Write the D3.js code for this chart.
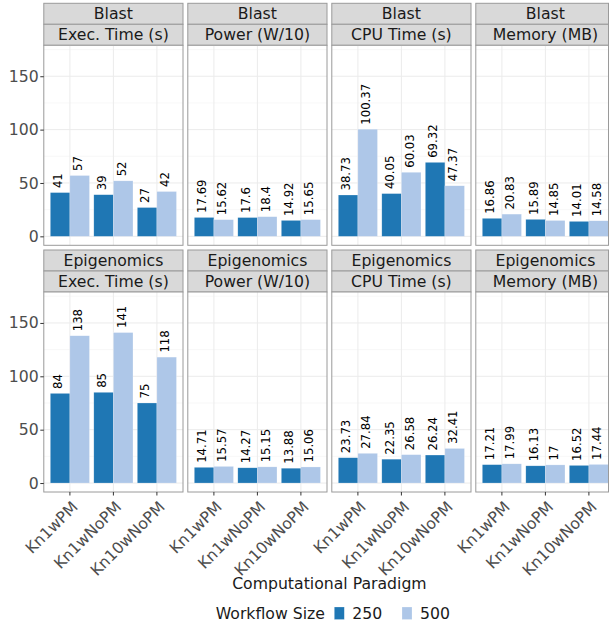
<!DOCTYPE html>
<html>
<head>
<meta charset="utf-8">
<script src="https://cdn.jsdelivr.net/npm/d3@7"></script>
<style>
  html, body { margin: 0; padding: 0; background: #ffffff; }
  svg { display: block; font-family: "DejaVu Sans", sans-serif; }
</style>
</head>
<body>
<div id="chart"></div>
<script>
// Workflow benchmark results: two workflows x four metrics, three paradigms, two workflow sizes
const workflows = ["Blast", "Epigenomics"];
const metrics = ["Exec. Time (s)", "Power (W/10)", "CPU Time (s)", "Memory (MB)"];
const paradigms = ["Kn1wPM", "Kn1wNoPM", "Kn10wNoPM"];
const sizes = ["250", "500"];
const sizeColors = ["#1F77B4", "#AEC7E8"];

// values[size] per paradigm, one array per facet
const blastExec250 = [41, 39, 27];
const blastExec500 = [57, 52, 42];
const blastPower250 = [17.69, 17.6, 14.92];
const blastPower500 = [15.62, 18.4, 15.65];
const blastCpu250 = [38.73, 40.05, 69.32];
const blastCpu500 = [100.37, 60.03, 47.37];
const blastMem250 = [16.86, 15.89, 14.01];
const blastMem500 = [20.83, 14.85, 14.58];

const epiExec250 = [84, 85, 75];
const epiExec500 = [138, 141, 118];
const epiPower250 = [14.71, 14.27, 13.88];
const epiPower500 = [15.57, 15.15, 15.06];
const epiCpu250 = [23.73, 22.35, 26.24];
const epiCpu500 = [27.84, 26.58, 32.41];
const epiMem250 = [17.21, 16.13, 16.52];
const epiMem500 = [17.99, 17, 17.44];

const yTicks = [0, 50, 100, 150];
const yMinor = [25, 75, 125, 175];

const facetData = [
  [[blastExec250, blastExec500], [blastPower250, blastPower500], [blastCpu250, blastCpu500], [blastMem250, blastMem500]],
  [[epiExec250, epiExec500], [epiPower250, epiPower500], [epiCpu250, epiCpu500], [epiMem250, epiMem500]]
];

const width = 610, height = 627;
const svg = d3.select("#chart").append("svg")
  .attr("width", width).attr("height", height);

// facet layout
const colX0 = 43.8, colStep = 144, panelW = 139.2;
const rowTop = [3.3, 250], stripH = 21, panelH = 200;
const rightLimit = 608.5;

const x = d3.scaleBand().domain(paradigms).range([0, panelW])
  .paddingInner(0.1).paddingOuter(0.15);
const xSub = d3.scaleBand().domain(sizes).range([0, x.bandwidth()]).padding(0);
const y = d3.scaleLinear().domain([-8.4, 179]).range([panelH, 0]);
const color = d3.scaleOrdinal().domain(sizes).range(sizeColors);

const axisGrey = "#4D4D4D";
const borderGrey = "#9A9A9A";
const fs = 15.7;

workflows.forEach((wf, r) => {
  metrics.forEach((metric, c) => {
    const x0 = colX0 + c * colStep;
    const visW = Math.min(panelW, rightLimit - x0);
    const top = rowTop[r];
    const pTop = top + 2 * stripH;

    // strips
    const strips = [wf, metric];
    strips.forEach((label, k) => {
      svg.append("rect")
        .attr("x", x0).attr("y", top + k * stripH)
        .attr("width", visW).attr("height", stripH)
        .attr("fill", "#D9D9D9").attr("stroke", borderGrey).attr("stroke-width", 1);
      svg.append("text")
        .attr("x", x0 + panelW / 2).attr("y", top + k * stripH + stripH / 2)
        .attr("dy", "0.36em").attr("text-anchor", "middle")
        .attr("font-size", fs).attr("fill", "#1A1A1A")
        .text(label);
    });

    const g = svg.append("g").attr("transform", `translate(${x0},${pTop})`);
    g.append("rect").attr("width", visW).attr("height", panelH).attr("fill", "#ffffff");

    // grid
    g.selectAll(".ymin").data(yMinor).enter().append("line")
      .attr("x1", 0).attr("x2", visW)
      .attr("y1", d => y(d)).attr("y2", d => y(d))
      .attr("stroke", "#F3F3F3").attr("stroke-width", 0.6);
    g.selectAll(".ymaj").data(yTicks).enter().append("line")
      .attr("x1", 0).attr("x2", visW)
      .attr("y1", d => y(d)).attr("y2", d => y(d))
      .attr("stroke", "#EBEBEB").attr("stroke-width", 1);
    g.selectAll(".xmaj").data(paradigms).enter().append("line")
      .attr("x1", d => x(d) + x.bandwidth() / 2).attr("x2", d => x(d) + x.bandwidth() / 2)
      .attr("y1", 0).attr("y2", panelH)
      .attr("stroke", "#EBEBEB").attr("stroke-width", 1);

    // bars and value labels
    const rows = [];
    paradigms.forEach((p, i) => {
      sizes.forEach((s, j) => {
        rows.push({ p, s, v: facetData[r][c][j][i] });
      });
    });
    g.selectAll(".bar").data(rows).enter().append("rect")
      .attr("x", d => x(d.p) + xSub(d.s))
      .attr("width", xSub.bandwidth())
      .attr("y", d => y(d.v))
      .attr("height", d => y(0) - y(d.v))
      .attr("fill", d => color(d.s))
      .attr("stroke", "rgba(255,255,255,0.45)").attr("stroke-width", 0.5);
    g.selectAll(".lbl").data(rows).enter().append("text")
      .attr("transform", d => `translate(${x(d.p) + xSub(d.s) + xSub.bandwidth() / 2},${y(d.v) - 4.5}) rotate(-90)`)
      .attr("dy", "0.2em")
      .attr("text-anchor", "start")
      .attr("font-size", 11.7).attr("fill", "#000000")
      .text(d => String(d.v));

    // panel border
    g.append("rect").attr("width", visW).attr("height", panelH)
      .attr("fill", "none").attr("stroke", borderGrey).attr("stroke-width", 1);

    // y axis on first column
    if (c === 0) {
      const ya = svg.append("g").attr("transform", `translate(${x0},${pTop})`)
        .call(d3.axisLeft(y).tickValues(yTicks).tickSize(3.5).tickPadding(1.5));
      ya.select(".domain").remove();
      ya.selectAll(".tick line").attr("stroke", "#333333");
      ya.selectAll(".tick text").attr("font-size", fs).attr("fill", axisGrey)
        .attr("font-family", "DejaVu Sans, sans-serif");
    }

    // x axis on bottom row
    if (r === workflows.length - 1) {
      const xa = svg.append("g").attr("transform", `translate(${x0},${pTop + panelH})`)
        .call(d3.axisBottom(x).tickSize(3.5).tickFormat(() => ""));
      xa.select(".domain").remove();
      xa.selectAll(".tick line").attr("stroke", "#333333");
      g.selectAll(".xl").data(paradigms).enter().append("text")
        .attr("transform", d => `translate(${x(d) + x.bandwidth() / 2},${panelH + 7}) rotate(-45)`)
        .attr("dy", "0.8em")
        .attr("text-anchor", "end")
        .attr("font-size", fs).attr("fill", axisGrey)
        .text(d => d);
    }
  });
});

// x axis title
svg.append("text")
  .attr("x", colX0 + (3 * colStep + panelW) / 2).attr("y", 589)
  .attr("text-anchor", "middle").attr("font-size", fs).attr("fill", "#1A1A1A")
  .text("Computational Paradigm");

// legend
const leg = svg.append("g");
leg.append("text").attr("x", 215.7).attr("y", 613.3).attr("dy", "0.36em")
  .attr("font-size", fs).attr("fill", "#1A1A1A").text("Workflow Size");
const legX = [334.3, 402];
sizes.forEach((s, i) => {
  leg.append("rect").attr("x", legX[i]).attr("y", 607).attr("width", 10).attr("height", 12.5)
    .attr("fill", color(s)).attr("stroke", "rgba(255,255,255,0.45)").attr("stroke-width", 0.5);
  leg.append("text").attr("x", legX[i] + 18).attr("y", 613.3).attr("dy", "0.36em")
    .attr("font-size", fs).attr("fill", "#1A1A1A").text(s);
});
</script>
</body>
</html>
